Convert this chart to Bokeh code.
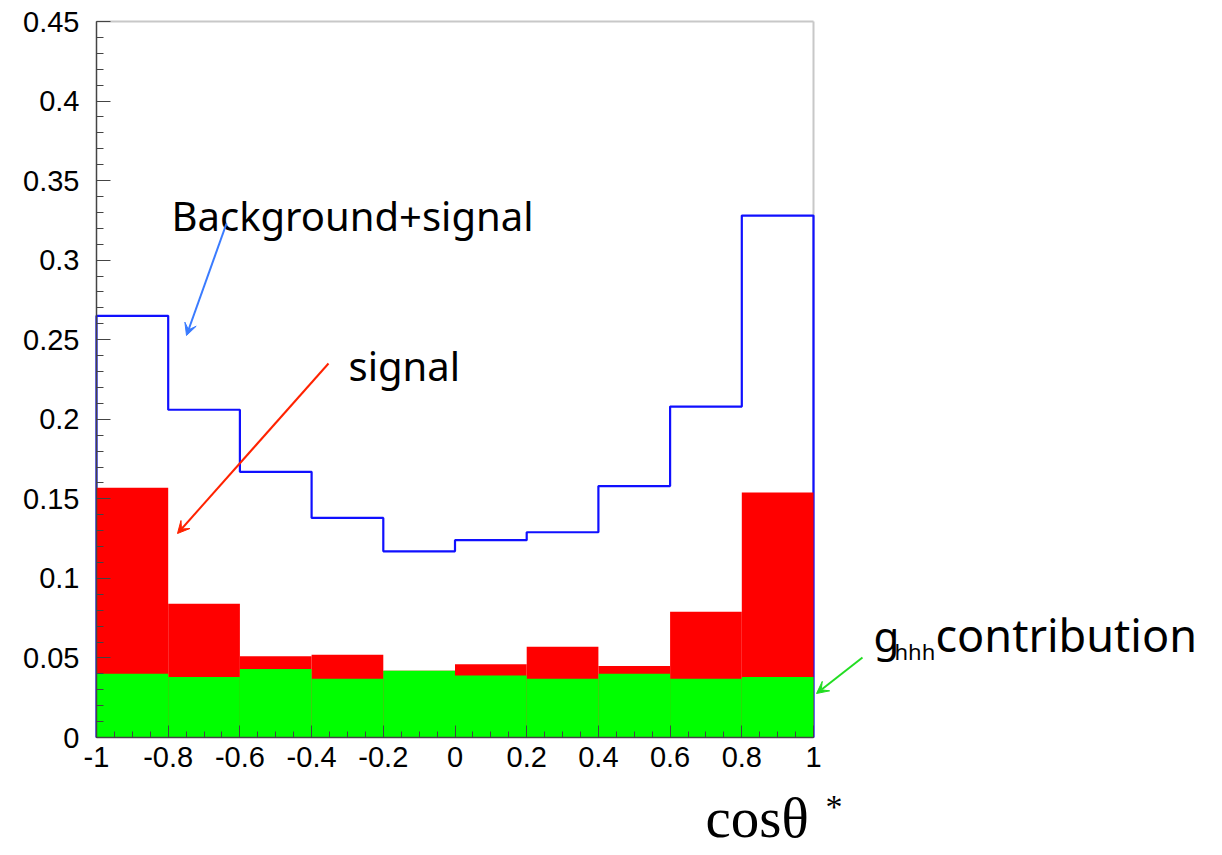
import numpy as np
from bokeh.plotting import figure
from bokeh.models import (Range1d, SingleIntervalTicker, FixedTicker, CustomJSTickFormatter,
                          Label, Arrow, VeeHead, ColumnDataSource, LinearAxis)
from bokeh.embed import file_html
from bokeh.resources import INLINE

# ---- data ----
bin_edges = [-1.0, -0.8, -0.6, -0.4, -0.2, 0.0, 0.2, 0.4, 0.6, 0.8, 1.0]
bkg_plus_signal = [0.265, 0.206, 0.167, 0.138, 0.117, 0.124, 0.129, 0.158, 0.208, 0.328]
signal = [0.157, 0.084, 0.051, 0.052, 0.042, 0.046, 0.057, 0.045, 0.079, 0.154]
ghhh = [0.040, 0.038, 0.043, 0.037, 0.042, 0.039, 0.037, 0.040, 0.037, 0.038]

x_min, x_max = -1.0, 1.0
y_min, y_max = 0.0, 0.45

x_label = "cosθ"
x_label_sup = "*"
label_bkg = "Background+signal"
label_sig = "signal"
label_g = "g"
label_g_sub = "hhh"
label_contrib = "contribution"

# ---- layout: the frame covers the whole canvas; axes are pinned inside it ----
W, H = 1222, 855
FX0, FX1 = 96, 813      # pixel columns of x = -1 and x = 1
FY0, FY1 = 737, 21      # pixel rows of y = 0 and y = 0.45
sx = (FX1 - FX0) / (x_max - x_min)
sy = (FY0 - FY1) / (y_max - y_min)


def px_x(px):
    return x_min + (px - FX0) / sx


def px_y(py):
    return y_min + (FY0 - py) / sy


p = figure(width=W, height=H, output_backend="svg", toolbar_location=None,
           x_range=Range1d(px_x(0), px_x(W)), y_range=Range1d(px_y(H), px_y(0)),
           min_border_left=0, min_border_right=0, min_border_top=0, min_border_bottom=0)
p.grid.visible = False
p.background_fill_color = "white"
p.border_fill_color = "white"
p.outline_line_color = None

fmt = CustomJSTickFormatter(code="""
let t = Math.abs(tick) < 1e-9 ? 0 : tick;
let s = t.toFixed(2);
if (s.indexOf('.') >= 0) { s = s.replace(/0+$/, '').replace(/\\.$/, ''); }
return s;
""")

xax = p.xaxis[0]
yax = p.yaxis[0]
xax.fixed_location = y_min
xax.bounds = (x_min, x_max)
yax.fixed_location = x_min
yax.bounds = (y_min, y_max)

for ax, interval, nminor in ((xax, 0.2, 4), (yax, 0.05, 5)):
    ax.ticker = SingleIntervalTicker(interval=interval, num_minor_ticks=nminor)
    ax.formatter = fmt
    ax.axis_line_color = "#444444"
    ax.axis_line_width = 1.5
    ax.major_tick_line_color = "#444444"
    ax.minor_tick_line_color = "#444444"
    ax.major_tick_out = 0
    ax.minor_tick_out = 0
    ax.major_label_text_font = "Liberation Sans"
    ax.major_label_text_font_size = "29px"
    ax.major_label_text_color = "black"

xax.major_tick_in = 12
xax.minor_tick_in = 6
xax.major_label_standoff = 9
yax.major_tick_in = 14
yax.minor_tick_in = 7
yax.major_label_standoff = 17

# grey frame lines on top and right (axes without ticks)
top_ax = LinearAxis(fixed_location=y_max, bounds=(x_min, x_max), ticker=FixedTicker(ticks=[]),
                    axis_line_color="#c8c8c8", axis_line_width=2,
                    major_tick_in=0, major_tick_out=0, minor_tick_in=0, minor_tick_out=0,
                    level="underlay")
right_ax = LinearAxis(fixed_location=x_max, bounds=(y_min, y_max), ticker=FixedTicker(ticks=[]),
                      axis_line_color="#c8c8c8", axis_line_width=2,
                      major_tick_in=0, major_tick_out=0, minor_tick_in=0, minor_tick_out=0,
                      level="underlay")
p.add_layout(top_ax, "above")
p.add_layout(right_ax, "right")

# background+signal outline (step histogram)
edges = np.array(bin_edges)
vals = np.array(bkg_plus_signal)
xs = [edges[0]]
ys = [0.0]
for i in range(len(vals)):
    xs += [edges[i], edges[i + 1]]
    ys += [vals[i], vals[i]]
xs.append(edges[-1])
ys.append(0.0)
p.line(xs, ys, line_color="#1010ff", line_width=2.2)

# signal (red) and ghhh (green) filled histograms
left = bin_edges[:-1]
right = bin_edges[1:]
src_sig = ColumnDataSource(dict(left=left, right=right, top=signal, bottom=[0] * len(signal)))
p.quad(left="left", right="right", top="top", bottom="bottom", source=src_sig,
       fill_color="#ff0000", line_color=None)
src_g = ColumnDataSource(dict(left=left, right=right, top=ghhh, bottom=[0] * len(ghhh)))
p.quad(left="left", right="right", top="top", bottom="bottom", source=src_g,
       fill_color="#00ff00", line_color=None)

# annotations
hand_font = "Noto Sans"
BASELINE_SHIFT = 0.43   # Label places alphabetic baseline ~0.43em low; compensate


def add_label(px, py, text, font, size):
    p.add_layout(Label(x=px_x(px), y=px_y(py - BASELINE_SHIFT * size), text=text,
                       text_font=font, text_font_size=f"{size}px", text_color="black",
                       text_baseline="alphabetic", text_align="left"))


add_label(171, 232, label_bkg, hand_font, 40)
add_label(348, 382, label_sig, hand_font, 40)
add_label(873, 653, label_g, hand_font, 42)
add_label(894, 660, label_g_sub, hand_font, 22)
add_label(935, 653, label_contrib, hand_font, 45)
add_label(705, 842, x_label, "Liberation Serif", 57)
add_label(825, 821, x_label_sup, "Liberation Serif", 34)


def add_arrow(p0, p1, color):
    p.add_layout(Arrow(x_start=px_x(p0[0]), y_start=px_y(p0[1]),
                       x_end=px_x(p1[0]), y_end=px_y(p1[1]),
                       line_color=color, line_width=2,
                       end=VeeHead(size=12, fill_color=color, line_color=color, line_width=1)))


add_arrow((226, 223), (186, 335), "#3a7bff")
add_arrow((328, 363), (177, 533), "#ff2200")
add_arrow((862, 657), (816, 693), "#22dd22")

open("out.html", "w").write(file_html(p, INLINE))
